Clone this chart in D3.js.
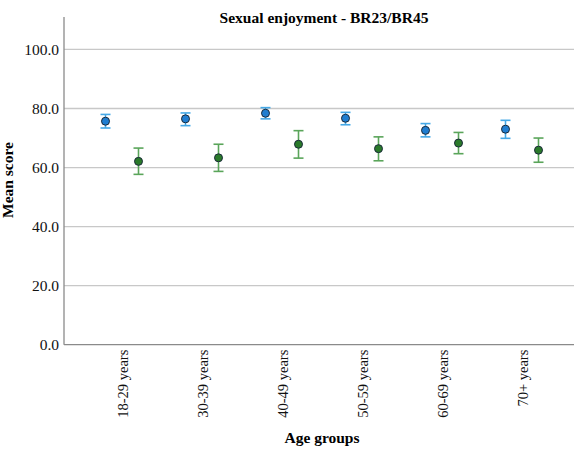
<!DOCTYPE html>
<html><head><meta charset="utf-8">
<script src="https://cdn.jsdelivr.net/npm/d3@7"></script>
<style>body{margin:0;background:#fff;}svg{display:block;font-family:"Liberation Serif","Times New Roman",serif;}</style>
</head><body>
<svg id="c" width="574" height="454"></svg>
<script>
const categories = ["18-29 years","30-39 years","40-49 years","50-59 years","60-69 years","70+ years"];
const seriesNames = ["BR23","BR45"];
const br23Mean = [75.7, 76.5, 78.4, 76.7, 72.6, 73.0];
const br23Low  = [73.4, 74.2, 76.5, 74.5, 70.4, 69.9];
const br23High = [78.0, 78.5, 80.3, 78.7, 74.9, 76.0];
const br45Mean = [62.1, 63.3, 67.9, 66.4, 68.3, 65.9];
const br45Low  = [57.7, 58.7, 63.2, 62.3, 64.7, 61.8];
const br45High = [66.6, 67.9, 72.5, 70.4, 71.9, 70.0];
const yTicks = [0, 20, 40, 60, 80, 100];

const svg = d3.select("#c");
const mLeft = 64, mRight = 580, mTop = 17, mBottom = 344.7;
const x = d3.scalePoint().domain(categories).range([mLeft, mRight]).padding(0.725);
const y = d3.scaleLinear().domain([0, 111]).range([mBottom, mTop]);
const offset = {BR23: -16.5, BR45: 16.5};
const colors = {BR23: {fill:"#1f7dd0", bar:"#45a8e6"}, BR45: {fill:"#2a7a2a", bar:"#5aa55a"}};

// gridlines
svg.append("g").selectAll("line").data(yTicks.filter(d => d > 0)).join("line")
  .attr("x1", mLeft).attr("x2", 574).attr("y1", d => y(d)).attr("y2", d => y(d))
  .attr("stroke", "#c8c8c8").attr("stroke-width", 1.3);

// y axis
const yAxis = svg.append("g").attr("transform", `translate(${mLeft},0)`)
  .call(d3.axisLeft(y).tickValues(yTicks).tickSize(0).tickPadding(5).tickFormat(d3.format(".1f")));
yAxis.select(".domain").remove();
yAxis.selectAll("text").attr("font-size", 15.5).attr("fill", "#111").attr("font-family", "Liberation Serif, serif");
svg.append("line").attr("x1", mLeft).attr("x2", mLeft).attr("y1", mTop).attr("y2", mBottom)
  .attr("stroke", "#8a8a8a").attr("stroke-width", 1.3);

// x axis
const xAxis = svg.append("g").attr("transform", `translate(0,${mBottom})`)
  .call(d3.axisBottom(x).tickSize(0).tickPadding(0));
xAxis.select(".domain").attr("d", `M${mLeft},0H574`).attr("stroke", "#8a8a8a").attr("stroke-width", 1.3);
xAxis.selectAll("text")
  .attr("font-size", 14.5).attr("fill", "#111").attr("font-family", "Liberation Serif, serif")
  .attr("text-anchor", "end").attr("dy", null).attr("y", 0)
  .attr("transform", "translate(5,5) rotate(-90)");

// data
const series = [
  {name: "BR23", mean: br23Mean, lo: br23Low, hi: br23High},
  {name: "BR45", mean: br45Mean, lo: br45Low, hi: br45High}
];
series.forEach(s => {
  const g = svg.append("g");
  const pts = categories.map((c, i) => ({c, m: s.mean[i], lo: s.lo[i], hi: s.hi[i]}));
  const cx = d => x(d.c) + offset[s.name];
  const col = colors[s.name];
  g.selectAll(".v").data(pts).join("line").attr("class", "v")
    .attr("x1", cx).attr("x2", cx).attr("y1", d => y(d.lo)).attr("y2", d => y(d.hi))
    .attr("stroke", col.bar).attr("stroke-width", 1.6);
  ["lo","hi"].forEach(k => {
    g.selectAll(".c" + k).data(pts).join("line").attr("class", "c" + k)
      .attr("x1", d => cx(d) - 5).attr("x2", d => cx(d) + 5)
      .attr("y1", d => y(d[k])).attr("y2", d => y(d[k]))
      .attr("stroke", col.bar).attr("stroke-width", 1.6);
  });
  g.selectAll("circle").data(pts).join("circle")
    .attr("cx", cx).attr("cy", d => y(d.m)).attr("r", 4)
    .attr("fill", col.fill).attr("stroke", "#1a2a3a").attr("stroke-width", 1);
});

// titles
svg.append("text").attr("x", 324).attr("y", 23).attr("text-anchor", "middle")
  .attr("font-size", 15.5).attr("font-weight", "bold").attr("fill", "#000")
  .text("Sexual enjoyment - BR23/BR45");
svg.append("text").attr("x", 322).attr("y", 443).attr("text-anchor", "middle")
  .attr("font-size", 15.5).attr("font-weight", "bold").attr("fill", "#000")
  .text("Age groups");
svg.append("text").attr("transform", "translate(13,180) rotate(-90)").attr("text-anchor", "middle")
  .attr("font-size", 15.5).attr("font-weight", "bold").attr("fill", "#000")
  .text("Mean score");
</script>
</body></html>
